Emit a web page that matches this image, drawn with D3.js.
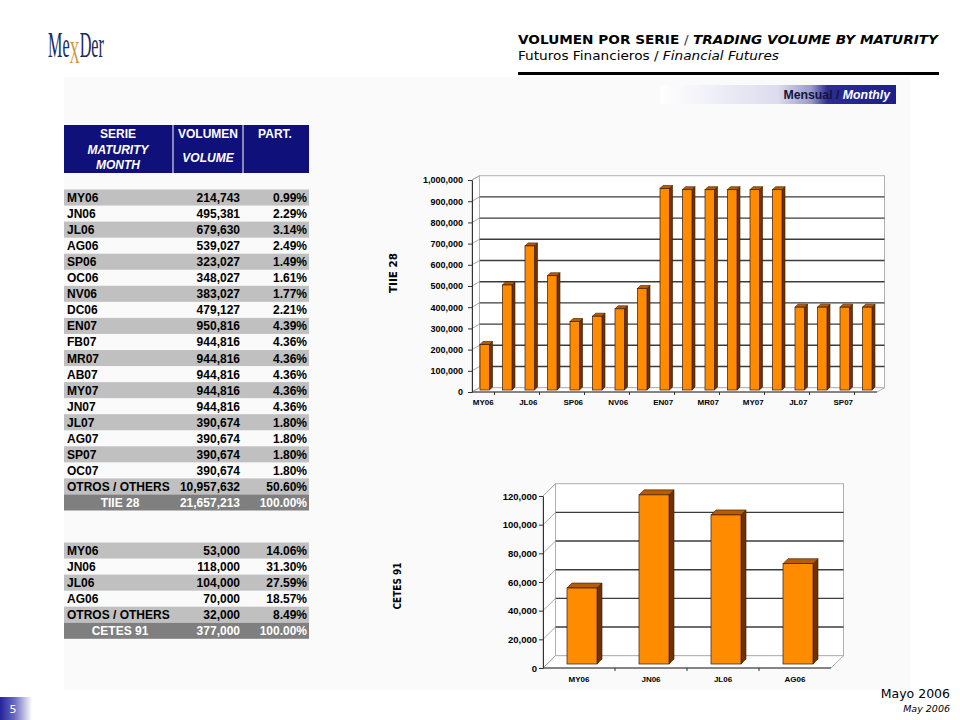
<!DOCTYPE html>
<html><head><meta charset="utf-8">
<script src="https://cdn.jsdelivr.net/npm/d3@7"></script>
<style>body{margin:0;background:#fff} svg{display:block}</style>
</head><body>
<svg id="c" width="960" height="720"></svg>
<script>
// ---------- DATA ----------
const tiieSeries = ["MY06","JN06","JL06","AG06","SP06","OC06","NV06","DC06","EN07","FB07","MR07","AB07","MY07","JN07","JL07","AG07","SP07","OC07"];
const tiieVolume = [214743,495381,679630,539027,323027,348027,383027,479127,950816,944816,944816,944816,944816,944816,390674,390674,390674,390674];
const tiiePart   = ["0.99%","2.29%","3.14%","2.49%","1.49%","1.61%","1.77%","2.21%","4.39%","4.36%","4.36%","4.36%","4.36%","4.36%","1.80%","1.80%","1.80%","1.80%"];
const tiieOthers = {label:"OTROS / OTHERS", vol:10957632, part:"50.60%"};
const tiieTotal  = {label:"TIIE 28", vol:21657213, part:"100.00%"};

const cetesSeries = ["MY06","JN06","JL06","AG06"];
const cetesVolume = [53000,118000,104000,70000];
const cetesPart   = ["14.06%","31.30%","27.59%","18.57%"];
const cetesOthers = {label:"OTROS / OTHERS", vol:32000, part:"8.49%"};
const cetesTotal  = {label:"CETES 91", vol:377000, part:"100.00%"};

const tiieTicks  = [0,100000,200000,300000,400000,500000,600000,700000,800000,900000,1000000];
const cetesTicks = [0,20000,40000,60000,80000,100000,120000];

// ---------- SETUP ----------
const svg = d3.select("#c");
const fmt = d3.format(",");
const defs = svg.append("defs");
const g1 = defs.append("linearGradient").attr("id","mens").attr("x1","0").attr("x2","1").attr("y1","0").attr("y2","0");
[[0,"#ffffff"],[0.5,"#dcdcee"],[0.64,"#9a9acc"],[0.71,"#2c2c94"],[1,"#1e1e8a"]].forEach(s=>g1.append("stop").attr("offset",s[0]).attr("stop-color",s[1]));
const g2 = defs.append("linearGradient").attr("id","pg").attr("x1","0").attr("x2","1").attr("y1","0").attr("y2","0");
[[0,"#24249a"],[0.45,"#6a6ac0"],[1,"#ffffff"]].forEach(s=>g2.append("stop").attr("offset",s[0]).attr("stop-color",s[1]));

// panel
svg.append("rect").attr("x",64).attr("y",77).attr("width",846).attr("height",613).attr("fill","#fafafa");

// logo: one text, condensed by a horizontal scale
const logo = svg.append("text").attr("transform","translate(48,57) scale(0.45,1)")
  .attr("font-family","Liberation Serif, serif").attr("font-size",36);
logo.append("tspan").attr("fill","#1a2c5c").text("Me");
logo.append("tspan").attr("fill","#d4913a").attr("font-size",31).attr("dy",6).text("X");
logo.append("tspan").attr("fill","#1a2c5c").attr("dy",-6).text("Der");

// header
const h1 = svg.append("text").attr("x",518).attr("y",44).attr("font-family","DejaVu Sans, Verdana, sans-serif")
  .attr("font-size",11.5).attr("fill","#000").attr("textLength",420).attr("lengthAdjust","spacingAndGlyphs");
h1.append("tspan").attr("font-weight","bold").text("VOLUMEN POR SERIE ");
h1.append("tspan").attr("fill","#333").text("/ ");
h1.append("tspan").attr("font-weight","bold").attr("font-style","italic").text("TRADING VOLUME BY MATURITY");
const h2 = svg.append("text").attr("x",518).attr("y",60).attr("font-family","DejaVu Sans, Verdana, sans-serif")
  .attr("font-size",11.5).attr("fill","#000").attr("textLength",261).attr("lengthAdjust","spacingAndGlyphs");
h2.append("tspan").text("Futuros Financieros / ");
h2.append("tspan").attr("font-style","italic").text("Financial Futures");
svg.append("rect").attr("x",518).attr("y",72).attr("width",421).attr("height",3).attr("fill","#000");

// Mensual box
svg.append("rect").attr("x",660).attr("y",85).attr("width",236).attr("height",19).attr("fill","url(#mens)");
const mt = svg.append("text").attr("x",890).attr("y",99).attr("text-anchor","end")
  .attr("font-family","Liberation Sans, Arial, sans-serif").attr("font-weight","bold").attr("font-size",12.3);
mt.append("tspan").attr("fill","#14143a").text("Mensual / ");
mt.append("tspan").attr("fill","#fff").attr("font-style","italic").text("Monthly");

// ---------- TABLES ----------
const TX0 = 64, TX1 = 309, C1 = 173, C2 = 243, RH = 16.05;
const tfont = "Liberation Sans, Arial, sans-serif";

svg.append("rect").attr("x",TX0).attr("y",125).attr("width",TX1-TX0).attr("height",48).attr("fill","#10107a");
[C1,C2].forEach(cx=>svg.append("line").attr("x1",cx).attr("x2",cx).attr("y1",125).attr("y2",173).attr("stroke","#fff").attr("stroke-width",1));
const hdr = [["SERIE",118,138,"normal"],["MATURITY",118,154,"italic"],["MONTH",118,169,"italic"],
             ["VOLUMEN",208,138,"normal"],["VOLUME",208,162,"italic"],["PART.",275,138,"normal"]];
hdr.forEach(h=>svg.append("text").attr("x",h[1]).attr("y",h[2]).attr("text-anchor","middle")
  .attr("font-family",tfont).attr("font-weight","bold").attr("font-size",12).attr("font-style",h[3])
  .attr("fill","#fff").text(h[0]));

function drawTable(top, series, vols, parts, others, total){
  const rows = series.map((s,i)=>({label:s, vol:vols[i], part:parts[i]}));
  rows.push(others);
  rows.forEach((r,i)=>{
    const y = top + i*RH;
    if(i%2===0) svg.append("rect").attr("x",TX0).attr("y",y).attr("width",TX1-TX0).attr("height",RH).attr("fill","#c0c0c0");
    const t = (x,anchor,txt)=>svg.append("text").attr("x",x).attr("y",y+12.5).attr("text-anchor",anchor)
      .attr("font-family",tfont).attr("font-weight","bold").attr("font-size",12).attr("fill","#000").text(txt);
    t(67,"start",r.label); t(240,"end",fmt(r.vol)); t(307,"end",r.part);
  });
  const y = top + rows.length*RH;
  svg.append("rect").attr("x",TX0).attr("y",y).attr("width",TX1-TX0).attr("height",RH).attr("fill","#7f7f7f");
  const t = (x,anchor,txt)=>svg.append("text").attr("x",x).attr("y",y+12.5).attr("text-anchor",anchor)
    .attr("font-family",tfont).attr("font-weight","bold").attr("font-size",12).attr("fill","#fff").text(txt);
  t(120,"middle",total.label); t(240,"end",fmt(total.vol)); t(307,"end",total.part);
}
drawTable(189.5, tiieSeries, tiieVolume, tiiePart, tiieOthers, tiieTotal);
drawTable(542.5, cetesSeries, cetesVolume, cetesPart, cetesOthers, cetesTotal);

// ---------- 3D BAR CHARTS ----------
function chart3d(cfg){
  const g = svg.append("g");
  const x = d3.scaleBand().domain(cfg.cats).range(cfg.xRange);
  const y = d3.scaleLinear().domain([0, d3.max(cfg.ticks)]).range(cfg.yRange);
  const [wx, wy] = cfg.wall;
  const x0 = cfg.xRange[0], x1 = cfg.xRange[1], y0 = y(0), yT = y(d3.max(cfg.ticks));
  g.append("path").attr("d",`M${x0},${y0}L${x0},${yT}L${x0+wx},${yT+wy}L${x0+wx},${y0+wy}Z`)
    .attr("fill","#fff").attr("stroke","#b0b0b0").attr("stroke-width",1);
  g.append("rect").attr("x",x0+wx).attr("y",yT+wy).attr("width",x1-x0).attr("height",y0-yT)
    .attr("fill","#fff").attr("stroke","#b0b0b0").attr("stroke-width",1);
  g.append("path").attr("d",`M${x0},${y0}L${x1},${y0}L${x1+wx},${y0+wy}L${x0+wx},${y0+wy}Z`)
    .attr("fill","#fff").attr("stroke","#b0b0b0").attr("stroke-width",1);
  cfg.ticks.filter(v=>v>0 && v<d3.max(cfg.ticks)).forEach(v=>{
    g.append("line").attr("x1",x0+wx).attr("x2",x1+wx).attr("y1",y(v)+wy).attr("y2",y(v)+wy)
      .attr("stroke","#3c3c3c").attr("stroke-width",1.4);
  });
  cfg.ticks.forEach(v=>{
    g.append("line").attr("x1",x0).attr("x2",x0+wx).attr("y1",y(v)).attr("y2",y(v)+wy)
      .attr("stroke","#a8a8a8").attr("stroke-width",1);
  });
  const [ox, oy] = cfg.barOff, [dx, dy] = cfg.depth, bw = cfg.barW;
  cfg.vals.forEach((v,i)=>{
    const cx = x(cfg.cats[i]) + x.bandwidth()/2 + ox;
    const l = cx - bw/2, r = cx + bw/2, top = y(v) + oy, bot = y0 + oy;
    g.append("path").attr("d",`M${r},${bot}L${r},${top}L${r+dx},${top+dy}L${r+dx},${bot+dy}Z`)
      .attr("fill","#6e3200").attr("stroke","#3a1800").attr("stroke-width",0.6);
    g.append("path").attr("d",`M${l},${top}L${r},${top}L${r+dx},${top+dy}L${l+dx},${top+dy}Z`)
      .attr("fill","#b85c00").attr("stroke","#3a1800").attr("stroke-width",0.6);
    g.append("rect").attr("x",l).attr("y",top).attr("width",bw).attr("height",bot-top)
      .attr("fill","#ff8c00").attr("stroke","#3a1800").attr("stroke-width",0.7);
  });
  const ya = g.append("g").attr("transform",`translate(${x0},0)`)
    .call(d3.axisLeft(y).tickValues(cfg.ticks).tickFormat(fmt).tickSize(4).tickPadding(cfg.pad).tickSizeOuter(0));
  ya.select(".domain").attr("stroke","#333");
  ya.selectAll(".tick line").attr("stroke","#333");
  ya.selectAll("text").attr("font-family","Liberation Sans, Arial, sans-serif").attr("font-weight","bold")
    .attr("font-size",cfg.yfs).attr("fill","#000");
  g.append("line").attr("x1",x0).attr("x2",x1).attr("y1",y0).attr("y2",y0).attr("stroke","#333").attr("stroke-width",1);
  cfg.cats.forEach((c,i)=>{
    if(i>0 && i%cfg.tickEvery===cfg.tickMod){
      g.append("line").attr("x1",x(c)).attr("x2",x(c)).attr("y1",y0).attr("y2",y0+3).attr("stroke","#333");
    }
  });
  cfg.cats.forEach((c,i)=>{
    if(i%cfg.labelEvery===0){
      g.append("text").attr("x",x(c)+x.bandwidth()/2).attr("y",cfg.labelY).attr("text-anchor","middle")
        .attr("font-family","Liberation Sans, Arial, sans-serif").attr("font-weight","bold").attr("font-size",8)
        .attr("fill","#000").text(c);
    }
  });
  g.append("text").attr("transform",`translate(${cfg.title[1]},${cfg.title[2]}) rotate(-90)`)
    .attr("text-anchor","middle").attr("font-family","DejaVu Sans, Verdana, sans-serif").attr("font-weight","bold")
    .attr("font-size",10).attr("textLength",cfg.title[3]).attr("lengthAdjust","spacingAndGlyphs")
    .attr("fill","#000").text(cfg.title[0]);
}

chart3d({cats:tiieSeries, vals:tiieVolume, ticks:tiieTicks, xRange:[472,877], yRange:[392,180],
  wall:[7.5,-4.3], barOff:[1.5,-2], barW:9.5, depth:[3,-3], pad:5, yfs:9,
  tickEvery:2, tickMod:1, labelEvery:2, labelY:405, title:["TIIE 28",397,273,40]});
chart3d({cats:cetesSeries, vals:cetesVolume, ticks:cetesTicks, xRange:[543,831], yRange:[668,496],
  wall:[12.5,-12.3], barOff:[3,-4], barW:30, depth:[5,-5], pad:2, yfs:9.5,
  tickEvery:1, tickMod:0, labelEvery:1, labelY:682, title:["CETES 91",401,586,47]});

// ---------- FOOTER ----------
svg.append("text").attr("x",950).attr("y",698).attr("text-anchor","end").attr("font-family","DejaVu Sans, Verdana, sans-serif")
  .attr("font-size",12.5).attr("fill","#000").text("Mayo 2006");
svg.append("text").attr("x",950).attr("y",712).attr("text-anchor","end").attr("font-family","DejaVu Sans, Verdana, sans-serif")
  .attr("font-size",9.5).attr("font-style","italic").attr("fill","#000").text("May 2006");
svg.append("rect").attr("x",0).attr("y",697).attr("width",32).attr("height",23).attr("fill","url(#pg)");
svg.append("text").attr("x",13).attr("y",713).attr("text-anchor","middle").attr("font-family","DejaVu Sans, Verdana, sans-serif")
  .attr("font-size",11).attr("fill","#fff").text("5");
</script>
</body></html>
